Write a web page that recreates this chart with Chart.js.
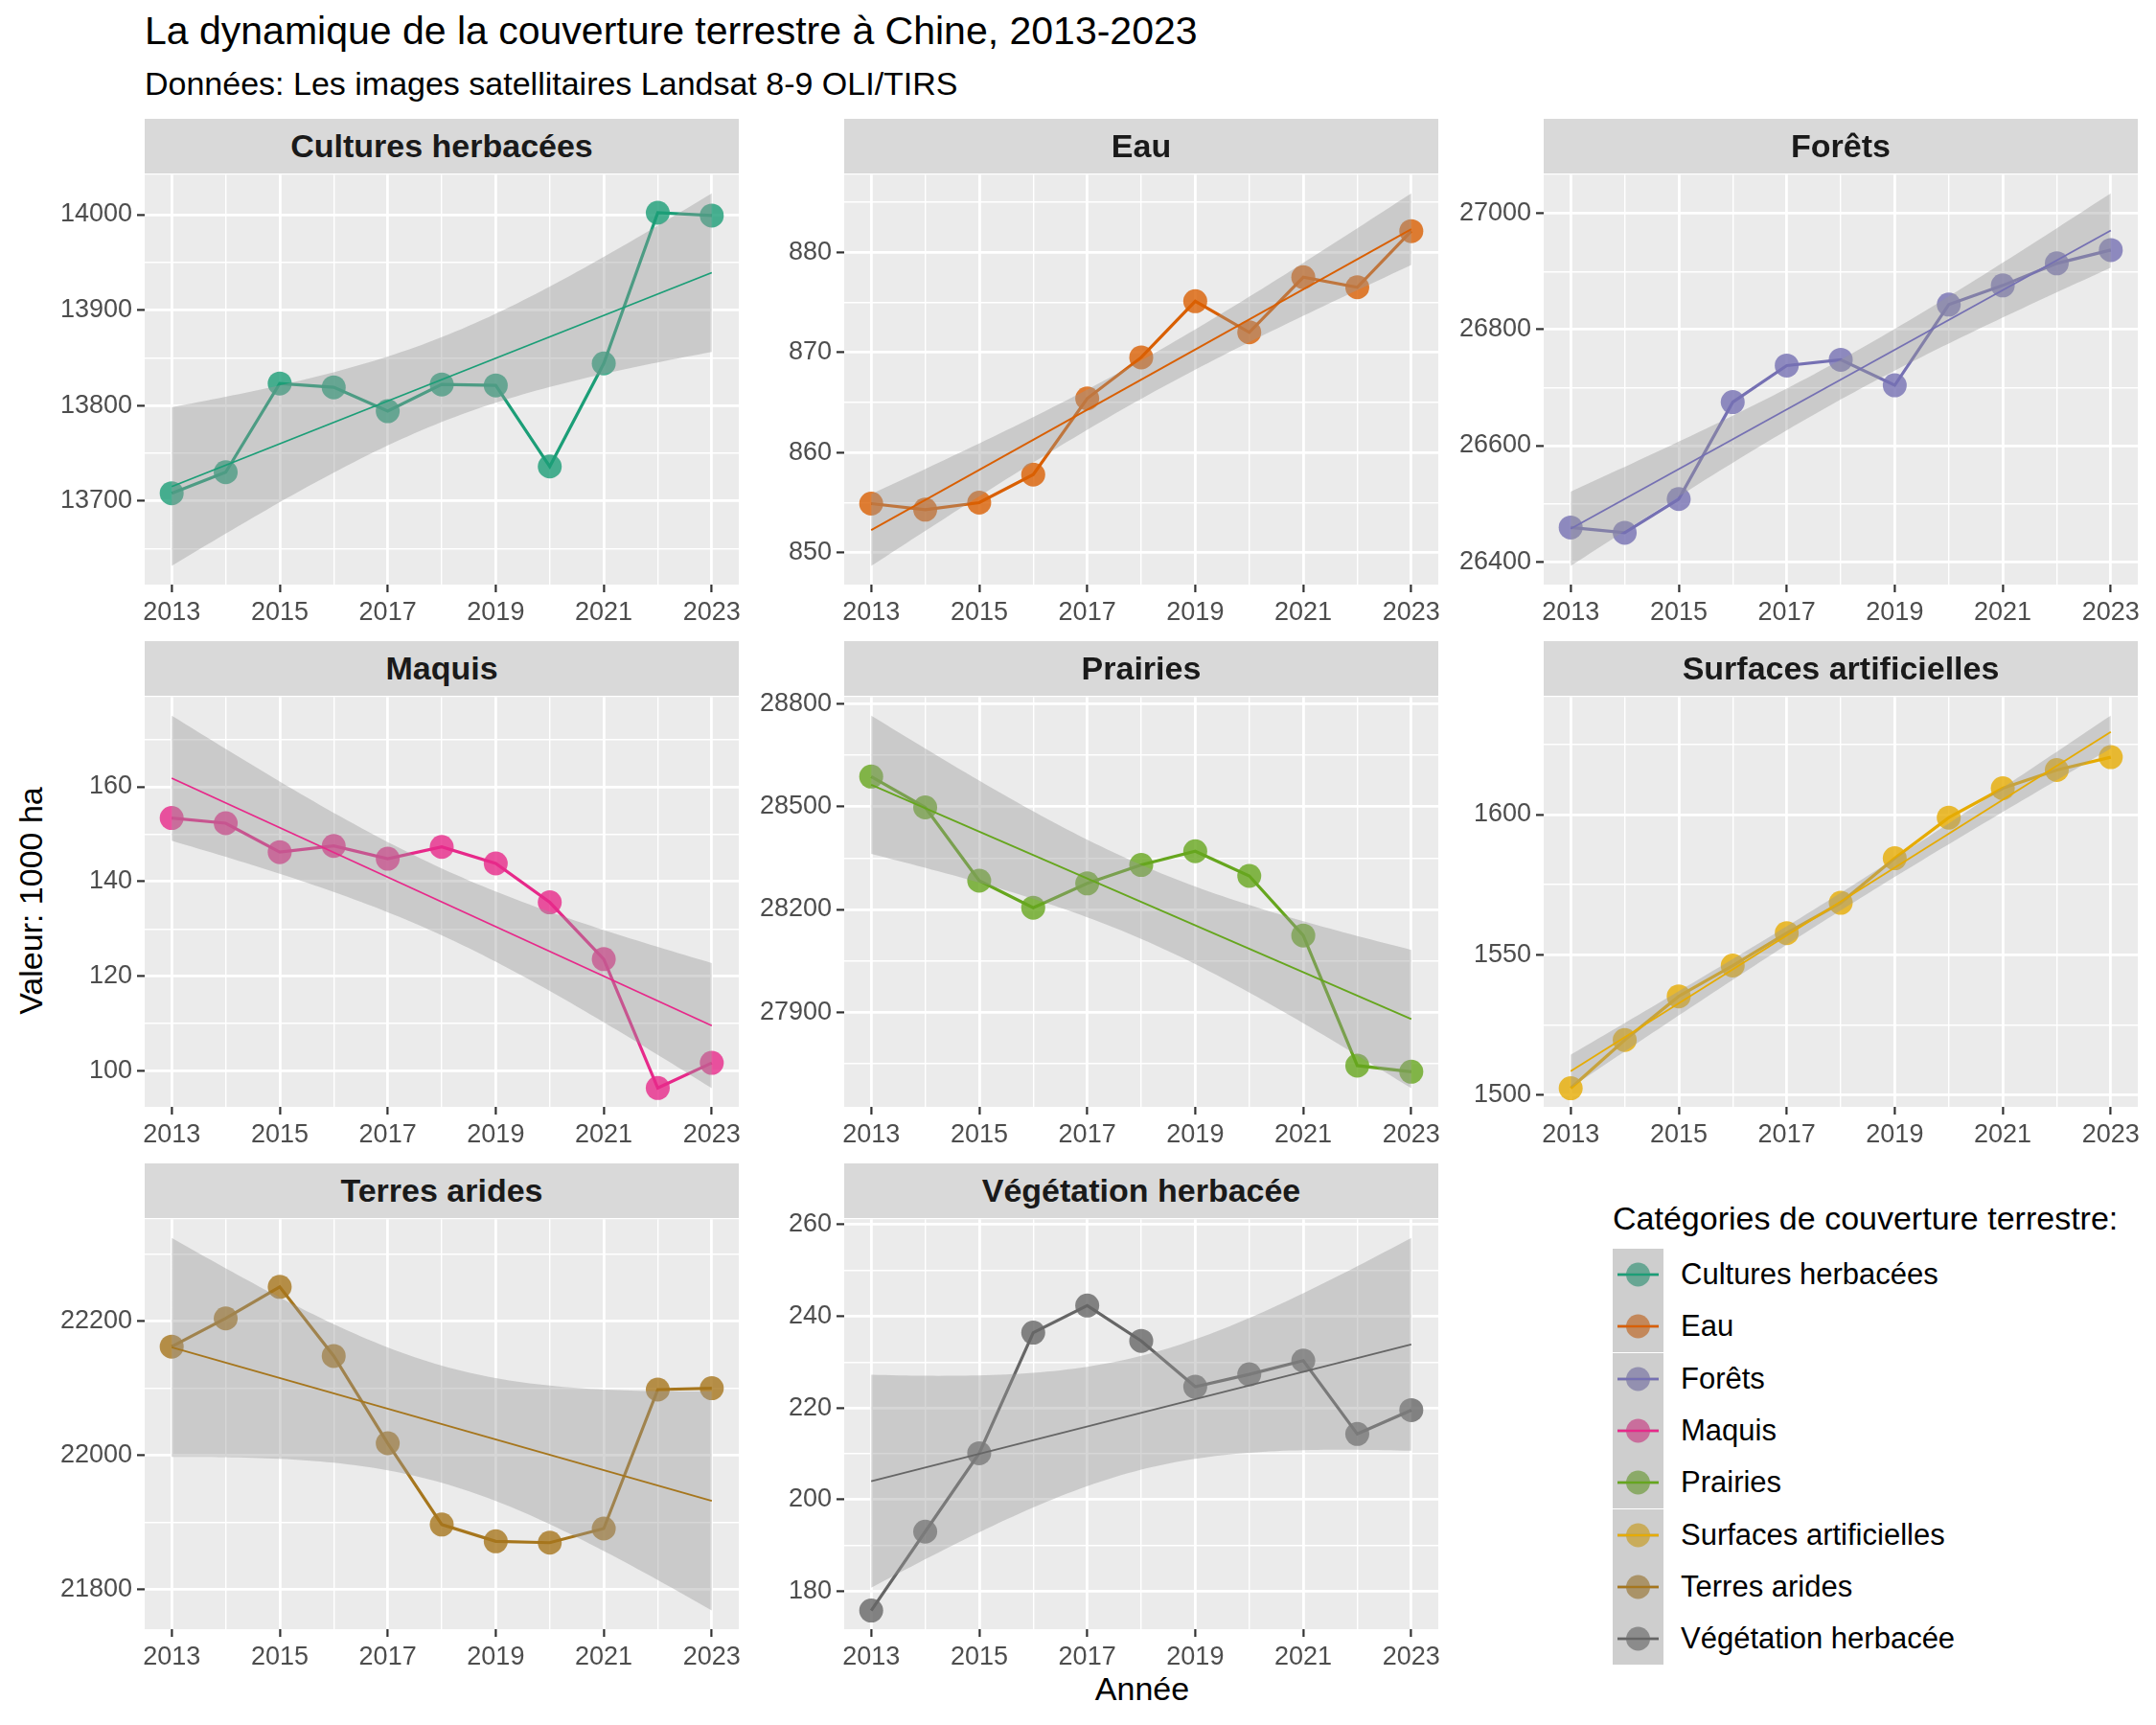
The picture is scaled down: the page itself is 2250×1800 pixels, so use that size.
<!DOCTYPE html>
<html>
<head>
<meta charset="utf-8">
<script src="https://cdn.jsdelivr.net/npm/chart.js@4.4.0/dist/chart.umd.min.js"></script>
<style>
  body { margin: 0; background: #fff; width: 2250px; height: 1800px; position: relative; overflow: hidden;
         font-family: "Liberation Sans", Arial, Helvetica, sans-serif; }
  .txt { position: absolute; white-space: nowrap; line-height: 1; color: #000; }
  .strip { position: absolute; background: #d9d9d9; height: 57px; display: flex; align-items: center;
           justify-content: center; font-weight: bold; font-size: 34px; color: #1a1a1a; z-index: 2; }
  .panel { position: absolute; z-index: 1; }
  .legend-row { position: absolute; left: 1683px; height: 54px; display: flex; align-items: center; }
  .legend-row span { margin-left: 18px; font-size: 31px; color: #000; white-space: nowrap; }
</style>
</head>
<body>
<div class="txt" style="left:151px; top:12px; font-size:41px;">La dynamique de la couverture terrestre à Chine, 2013-2023</div>
<div class="txt" style="left:151px; top:70px; font-size:34px;">Données: Les images satellitaires Landsat 8-9 OLI/TIRS</div>
<div class="txt" style="left:32px; top:940px; font-size:34px; transform: translate(-50%, -50%) rotate(-90deg);">Valeur: 1000 ha</div>
<div class="txt" style="left:1192px; top:1762px; font-size:34px; transform: translate(-50%, -50%);">Année</div>
<div class="txt" style="left:1683px; top:1254px; font-size:34px;">Catégories de couverture terrestre:</div>

<script>
const years = [2013, 2014, 2015, 2016, 2017, 2018, 2019, 2020, 2021, 2022, 2023];
const categories = ['Cultures herbacées', 'Eau', 'Forêts', 'Maquis', 'Prairies',
                    'Surfaces artificielles', 'Terres arides', 'Végétation herbacée'];
const colors = ['#1B9E77', '#D95F02', '#7570B3', '#E7298A', '#66A61E', '#E6AB02', '#A6761D', '#666666'];

// valeurs en 1000 ha
const culturesHerbacees     = [13708, 13730, 13823, 13819, 13794, 13822, 13821, 13736, 13844, 14002, 13999];
const eau                   = [854.9, 854.3, 855.0, 857.8, 865.4, 869.5, 875.1, 872.0, 877.5, 876.5, 882.1];
const forets                = [26459, 26450, 26508, 26675, 26738, 26748, 26704, 26843, 26876, 26914, 26937];
const maquis                = [153.4, 152.3, 146.2, 147.5, 144.8, 147.3, 143.8, 135.6, 123.6, 96.4, 101.7];
const prairies              = [28588, 28498, 28284, 28205, 28276, 28330, 28370, 28298, 28124, 27744, 27726];
const surfacesArtificielles = [1502.3, 1519.5, 1535.1, 1546.1, 1557.7, 1568.5, 1584.4, 1598.9, 1609.4, 1615.9, 1620.5];
const terresArides          = [22162, 22204, 22251, 22148, 22018, 21897, 21872, 21870, 21891, 22098, 22100];
const vegetationHerbacee    = [175.8, 193.0, 210.1, 236.4, 242.3, 234.6, 224.6, 227.3, 230.3, 214.3, 219.5];

const xTickLabels = [2013, 2015, 2017, 2019, 2021, 2023];
const yTicksCultures   = [13700, 13800, 13900, 14000];
const yTicksEau        = [850, 860, 870, 880];
const yTicksForets     = [26400, 26600, 26800, 27000];
const yTicksMaquis     = [100, 120, 140, 160];
const yTicksPrairies   = [27900, 28200, 28500, 28800];
const yTicksSurfaces   = [1500, 1550, 1600];
const yTicksTerres     = [21800, 22000, 22200];
const yTicksVegetation = [180, 200, 220, 240, 260];

const series = [culturesHerbacees, eau, forets, maquis, prairies, surfacesArtificielles, terresArides, vegetationHerbacee];
const yTicks = [yTicksCultures, yTicksEau, yTicksForets, yTicksMaquis, yTicksPrairies, yTicksSurfaces, yTicksTerres, yTicksVegetation];

const colLeft = [151, 881, 1611];
const rowTop = [181, 726, 1271];
const plotW = 620, plotH = 429;
const YW = 120, XH = 50, PAD = 20;
const FONT = '"Liberation Sans", Arial, Helvetica, sans-serif';

function alpha(hex, a) {
  const n = parseInt(hex.slice(1), 16);
  return `rgba(${n >> 16},${(n >> 8) & 255},${n & 255},${a})`;
}

// lm + intervalle de confiance 95 % (comme geom_smooth(method = "lm"))
function linearFit(xs, ys) {
  const n = xs.length;
  const xbar = xs.reduce((s, v) => s + v, 0) / n;
  const ybar = ys.reduce((s, v) => s + v, 0) / n;
  let sxx = 0, sxy = 0;
  xs.forEach((x, i) => { sxx += (x - xbar) ** 2; sxy += (x - xbar) * (ys[i] - ybar); });
  const b = sxy / sxx;
  const fit = x => ybar + b * (x - xbar);
  let rss = 0;
  xs.forEach((x, i) => { rss += (ys[i] - fit(x)) ** 2; });
  const s = Math.sqrt(rss / (n - 2));
  const t = 2.262157;
  const half = x => t * s * Math.sqrt(1 / n + (x - xbar) ** 2 / sxx);
  const grid = [];
  for (let k = 0; k <= 80; k++) grid.push(xs[0] + (xs[n - 1] - xs[0]) * k / 80);
  return {
    line: [{ x: xs[0], y: fit(xs[0]) }, { x: xs[n - 1], y: fit(xs[n - 1]) }],
    upper: grid.map(x => ({ x, y: fit(x) + half(x) })),
    lower: grid.map(x => ({ x, y: fit(x) - half(x) }))
  };
}

const panelBg = {
  id: 'panelBg',
  beforeDraw(chart) {
    const { ctx, chartArea: a } = chart;
    ctx.save();
    ctx.fillStyle = '#EBEBEB';
    ctx.fillRect(a.left, a.top, a.width, a.height);
    ctx.restore();
  }
};

function gridOpts(isMajor) {
  return {
    color: '#FFFFFF',
    lineWidth: c => isMajor(c.tick && c.tick.value) ? 2.8 : 1.4,
    drawTicks: true,
    tickLength: 8,
    tickWidth: 2.2,
    tickColor: c => isMajor(c.tick && c.tick.value) ? '#333333' : 'rgba(0,0,0,0)'
  };
}

categories.forEach((name, i) => {
  const values = series[i];
  const majors = yTicks[i];
  const col = i % 3, row = Math.floor(i / 3);
  const color = colors[i];
  const fit = linearFit(years, values);

  const lo = Math.min(...values, ...fit.lower.map(p => p.y));
  const hi = Math.max(...values, ...fit.upper.map(p => p.y));
  const yMin = lo - 0.05 * (hi - lo), yMax = hi + 0.05 * (hi - lo);
  const step = majors[1] - majors[0];
  const allY = [];
  for (let v = majors[0] - 2 * step; v <= majors[majors.length - 1] + 2 * step; v += step / 2) {
    if (v >= yMin && v <= yMax) allY.push(v);
  }

  const strip = document.createElement('div');
  strip.className = 'strip';
  strip.style.left = colLeft[col] + 'px';
  strip.style.top = (rowTop[row] - 57) + 'px';
  strip.style.width = plotW + 'px';
  strip.textContent = name;
  document.body.appendChild(strip);

  const box = document.createElement('div');
  box.className = 'panel';
  box.style.left = (colLeft[col] - YW) + 'px';
  box.style.top = (rowTop[row] - PAD) + 'px';
  const canvas = document.createElement('canvas');
  canvas.width = YW + plotW + PAD;
  canvas.height = PAD + plotH + XH;
  box.appendChild(canvas);
  document.body.appendChild(box);

  new Chart(canvas, {
    type: 'line',
    data: {
      datasets: [
        { data: fit.line, borderColor: color, borderWidth: 1.8, pointRadius: 0, fill: false },
        { data: fit.upper, borderWidth: 0, pointRadius: 0, fill: '+1', backgroundColor: 'rgba(153,153,153,0.4)' },
        { data: fit.lower, borderWidth: 0, pointRadius: 0, fill: false },
        {
          data: years.map((x, k) => ({ x, y: values[k] })),
          borderColor: color, borderWidth: 3.2, tension: 0, fill: false,
          pointRadius: 12.5, pointBorderWidth: 0, pointBackgroundColor: alpha(color, 0.8)
        }
      ]
    },
    options: {
      responsive: false,
      animation: false,
      devicePixelRatio: 1,
      layout: { autoPadding: false, padding: { top: PAD, right: PAD, left: 0, bottom: 0 } },
      plugins: { legend: { display: false }, tooltip: { enabled: false } },
      scales: {
        x: {
          type: 'linear', min: 2012.5, max: 2023.5, bounds: 'data',
          afterBuildTicks: s => { s.ticks = years.map(v => ({ value: v })); },
          afterFit: s => { s.height = XH; },
          ticks: {
            callback: v => xTickLabels.includes(v) ? String(v) : '',
            autoSkip: false, maxRotation: 0, padding: 5,
            color: '#4D4D4D', font: { family: FONT, size: 27 }
          },
          grid: gridOpts(v => xTickLabels.includes(v)),
          border: { display: false }
        },
        y: {
          type: 'linear', min: yMin, max: yMax, bounds: 'data',
          afterBuildTicks: s => { s.ticks = allY.map(v => ({ value: v })); },
          afterFit: s => { s.width = YW; },
          ticks: {
            callback: v => majors.includes(v) ? String(v) : '',
            autoSkip: false, padding: 5,
            color: '#4D4D4D', font: { family: FONT, size: 27 }
          },
          grid: gridOpts(v => majors.includes(v)),
          border: { display: false }
        }
      }
    },
    plugins: [panelBg]
  });
});

// légende
categories.forEach((name, i) => {
  const row = document.createElement('div');
  row.className = 'legend-row';
  row.style.top = (1303 + i * 54.3) + 'px';
  const c = colors[i];
  row.innerHTML =
    `<svg width="53" height="54" style="display:block">` +
    `<rect x="0" y="0" width="53" height="55" fill="#F2F2F2"/>` +
    `<line x1="5" y1="27" x2="48" y2="27" stroke="${c}" stroke-width="3"/>` +
    `<circle cx="26.5" cy="27" r="12.5" fill="${alpha(c, 0.8)}"/>` +
    `<rect x="0" y="0" width="53" height="55" fill="rgba(153,153,153,0.4)"/>` +
    `<line x1="5" y1="27" x2="48" y2="27" stroke="${c}" stroke-width="1.8"/>` +
    `</svg><span>${name}</span>`;
  document.body.appendChild(row);
});
</script>
</body>
</html>
